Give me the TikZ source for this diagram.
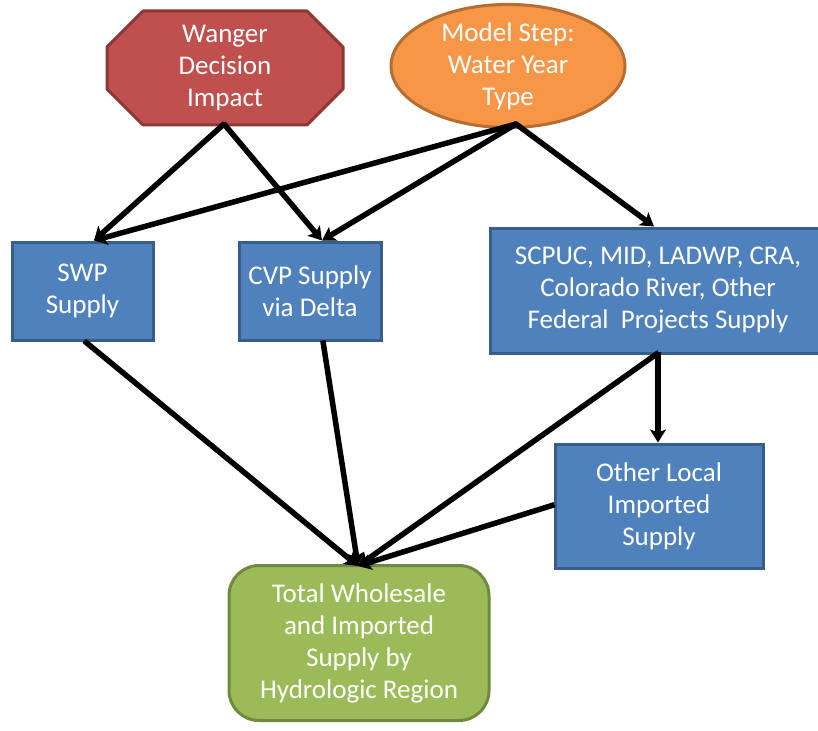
\documentclass[tikz,border=0pt]{standalone}
\usepackage{fontspec}
\setmainfont{Carlito}
\usetikzlibrary{shapes.geometric,arrows.meta}
\definecolor{redf}{HTML}{C0504D}\definecolor{redd}{HTML}{8C3836}
\definecolor{oranf}{HTML}{F79646}\definecolor{orand}{HTML}{B66D31}
\definecolor{bluef}{HTML}{4F81BD}\definecolor{blued}{HTML}{385D8A}
\definecolor{greenf}{HTML}{9BBB59}\definecolor{greend}{HTML}{71893F}
\tikzset{
  lbl/.style={text=white,font=\fontsize{27}{32}\selectfont,align=center,inner sep=0pt,line width=3pt},
  bluebox/.style={lbl,rectangle,fill=bluef,draw=blued},
  conn/.style={line width=5.5pt,-{Stealth[length=13pt,width=16pt,inset=3pt]},shorten <=-1pt},
}
\begin{document}
\begin{tikzpicture}[x=1pt,y=-1pt]
\useasboundingbox (0,0) rectangle (818,730);
\filldraw[fill=redf,draw=redd,line width=3pt,line join=round] (143,11) -- (307,11) -- (343,47) -- (343,89) -- (307,125) -- (143,125) -- (107,89) -- (107,47) -- cycle;
\node[lbl,rectangle,minimum width=236pt,minimum height=114pt] (wanger) at (225,68) {Wanger\\Decision\\Impact};
\node[lbl,ellipse,fill=oranf,draw=orand,minimum width=234pt,minimum height=120pt] (model) at (508,66) {Model Step:\\Water Year\\Type};
\node[bluebox,minimum width=141pt,minimum height=98pt] (swp) at (82.5,291) {SWP\\Supply};
\node[bluebox,minimum width=142pt,minimum height=98pt] (cvp) at (310,291) {CVP Supply\\via Delta};
\node[bluebox,minimum width=336pt,minimum height=125pt] (scpuc) at (658,290.5) {SCPUC, MID, LADWP, CRA,\\Colorado River, Other\\Federal\ \ Projects Supply};
\node[bluebox,minimum width=208pt,minimum height=124pt] (local) at (659,506) {Other Local\\Imported\\Supply};
\node[lbl,rectangle,rounded corners=30pt,fill=greenf,draw=greend,minimum width=260pt,minimum height=155pt] (total) at (359,643) {Total Wholesale\\and Imported\\Supply by\\Hydrologic Region};
\coordinate (wb) at (224,124);
\coordinate (mb) at (516,124);
\coordinate (sb) at (658,353);
\coordinate (tt) at (358,566);
\draw[conn] (wb) -- (swp.north -| 94,0);
\draw[conn] (wb) -- (cvp.north -| 322,0);
\draw[conn] (mb) -- (swp.north -| 94,0);
\draw[conn] (mb) -- (cvp.north -| 322,0);
\draw[conn] (mb) -- (scpuc.north -| 654,0);
\draw[conn] (sb) -- (local.north -| 658,0);
\draw[conn] (sb) -- (tt);
\draw[conn] (swp.south -| 85,0) -- (tt);
\draw[conn] (cvp.south -| 323,0) -- (tt);
\draw[conn] (local.west |- 0,505) -- (tt);
\end{tikzpicture}
\end{document}
